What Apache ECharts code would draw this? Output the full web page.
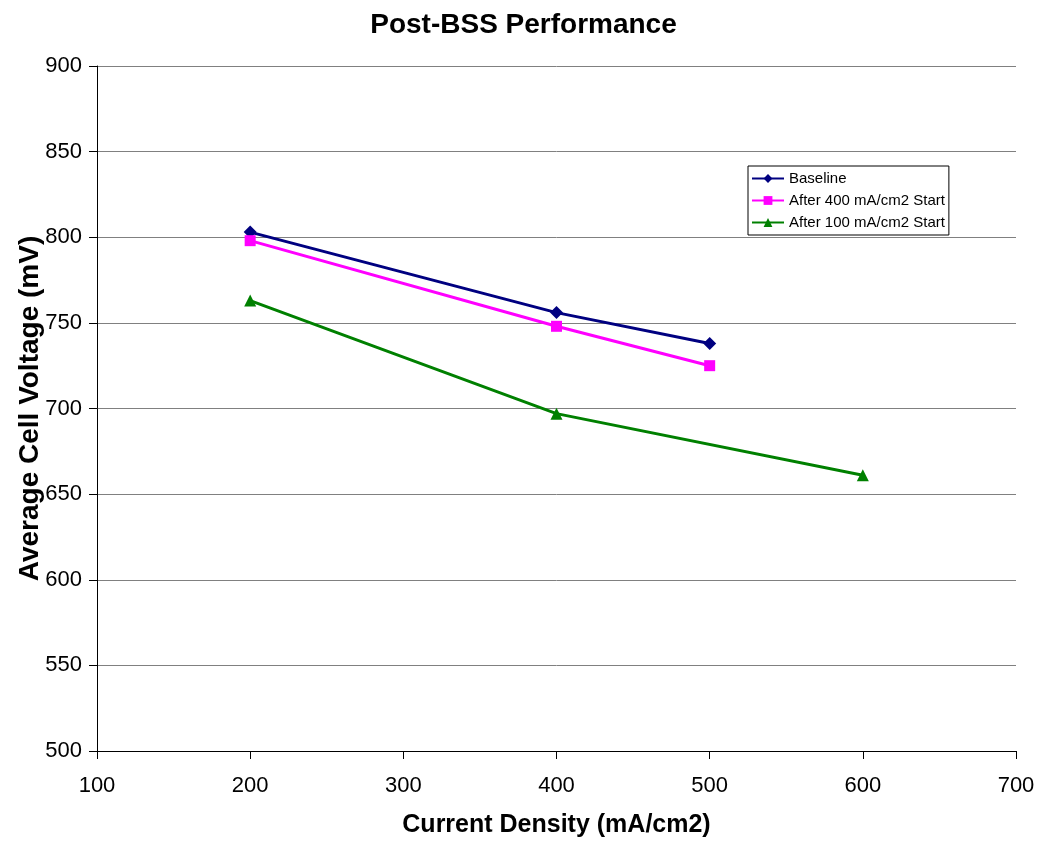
<!DOCTYPE html>
<html><head><meta charset="utf-8">
<script src="https://cdn.jsdelivr.net/npm/echarts@6/dist/echarts.min.js"></script>
<style>html,body{margin:0;padding:0;background:#fff}#c{width:1047px;height:843px}</style>
</head><body><div id="c"></div>
<script>
const seriesNames = ['Baseline', 'After 400 mA/cm2 Start', 'After 100 mA/cm2 Start'];
const baselineX = [200, 400, 500];
const baselineY = [803, 756, 738];
const after400X = [200, 400, 500];
const after400Y = [798, 748, 725];
const after100X = [200, 400, 600];
const after100Y = [763, 697, 661];
const colors = ['#000080', '#FF00FF', '#008000'];
const symbols = ['diamond', 'rect', 'triangle'];
const symbolSizes = [13, 11, 12];

const xs = [baselineX, after400X, after100X];
const ys = [baselineY, after400Y, after100Y];

const chart = echarts.init(document.getElementById('c'), null, {renderer: 'canvas'});
const font = 'Liberation Sans, Arial, sans-serif';
chart.setOption({
  animation: false,
  backgroundColor: '#fff',
  title: {
    text: 'Post-BSS Performance', left: 'center', top: 6,
    textStyle: {fontFamily: font, fontSize: 28, fontWeight: 'bold', color: '#000'}
  },
  grid: {left: 97, right: 31, top: 66, bottom: 90},
  legend: {
    orient: 'vertical', left: 748, top: 166,
    itemWidth: 32, itemHeight: 11, itemGap: 7,
    padding: [5, 4, 5, 3],
    borderColor: '#000', borderWidth: 1,
    textStyle: {fontFamily: font, fontSize: 15, color: '#000'},
    data: seriesNames
  },
  xAxis: {
    type: 'value', min: 100, max: 700, interval: 100,
    name: 'Current Density (mA/cm2)', nameLocation: 'middle', nameGap: 62,
    nameMoveOverlap: false,
    nameTextStyle: {fontFamily: font, fontSize: 25, fontWeight: 'bold', color: '#000'},
    axisLine: {onZero: false, lineStyle: {color: '#000', width: 1}},
    axisTick: {show: true, length: 8, lineStyle: {color: '#000'}},
    axisLabel: {fontFamily: font, fontSize: 22, color: '#000', margin: 24},
    splitLine: {show: false}
  },
  yAxis: {
    type: 'value', min: 500, max: 900, interval: 50,
    name: 'Average Cell Voltage (mV)', nameLocation: 'middle', nameGap: 53,
    nameMoveOverlap: false,
    nameTextStyle: {fontFamily: font, fontSize: 28, fontWeight: 'bold', color: '#000'},
    axisLine: {show: true, lineStyle: {color: '#000', width: 1}},
    axisTick: {show: true, length: 8, lineStyle: {color: '#000'}},
    axisLabel: {fontFamily: font, fontSize: 22, color: '#000', margin: 15},
    splitLine: {show: true, lineStyle: {color: '#808080', width: 1}}
  },
  series: seriesNames.map((n, i) => ({
    name: n, type: 'line',
    data: xs[i].map((x, j) => [x, ys[i][j]]),
    symbol: symbols[i], symbolSize: symbolSizes[i],
    showAllSymbol: true,
    lineStyle: {color: colors[i], width: 3},
    itemStyle: {color: colors[i]},
    emphasis: {disabled: true}
  }))
});
</script></body></html>
